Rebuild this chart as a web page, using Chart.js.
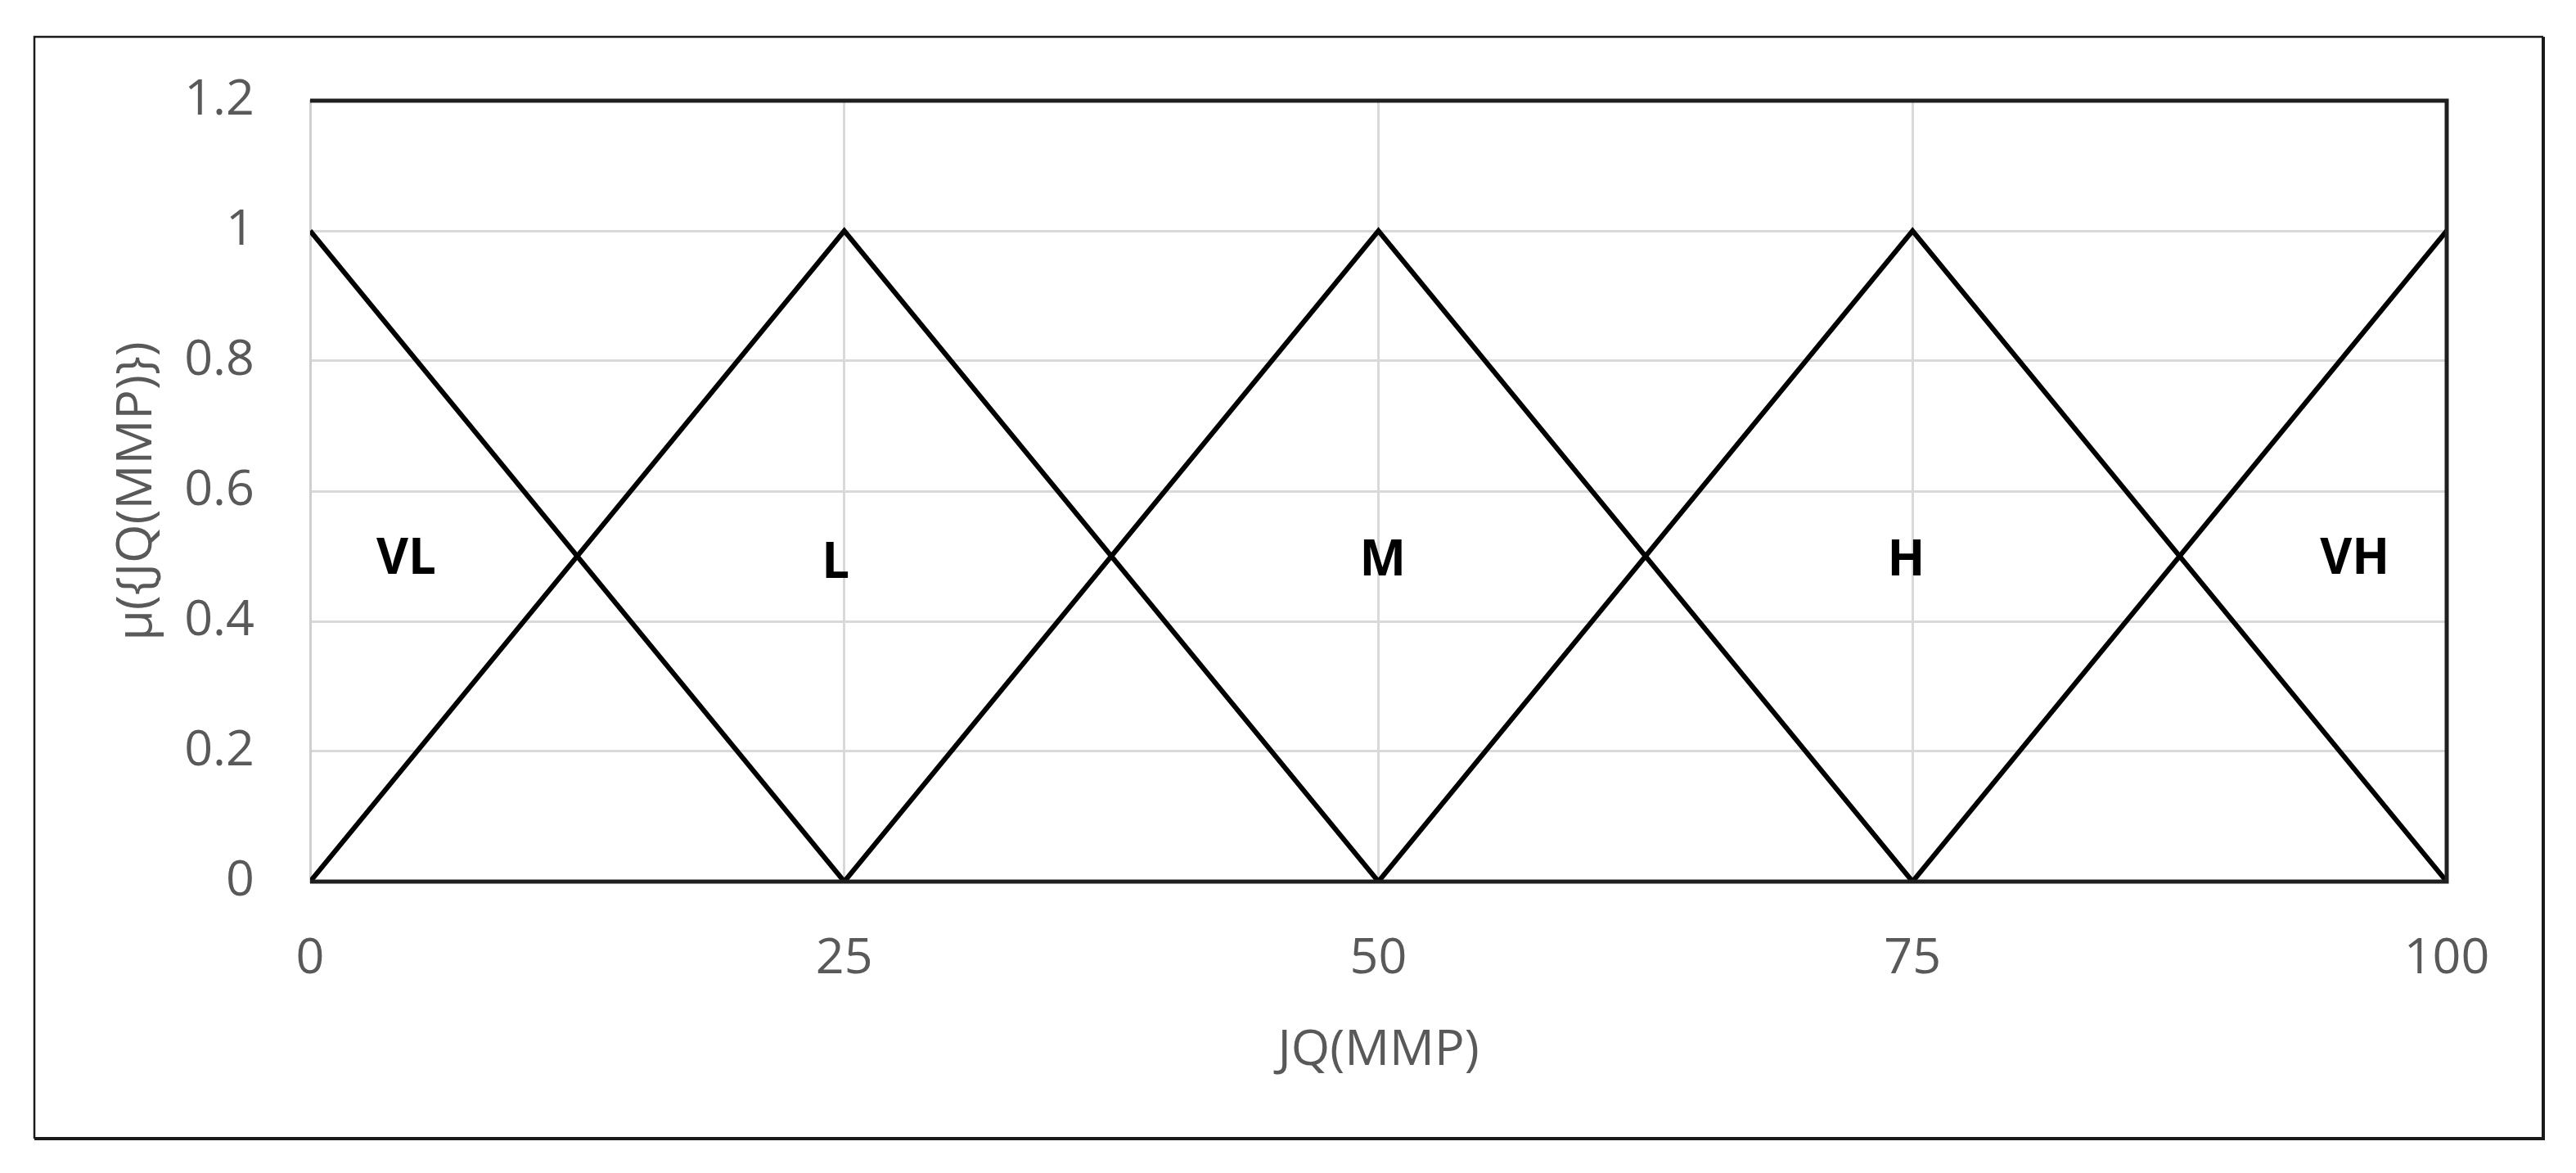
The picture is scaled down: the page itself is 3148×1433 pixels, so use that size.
<!DOCTYPE html>
<html>
<head>
<meta charset="utf-8">
<script src="https://cdn.jsdelivr.net/npm/chart.js@4"></script>
<style>
  html, body { margin: 0; padding: 0; background: #ffffff; }
  #wrap { width: 3148px; height: 1433px; position: relative; }
</style>
</head>
<body>
<div id="wrap"><canvas id="c" width="3148" height="1433"></canvas></div>
<script>
// ---- Data ----
const seriesNames = ['VL', 'L', 'M', 'H', 'VH'];
const vlX = [0, 25];        const vlY = [1, 0];
const lX  = [0, 25, 50];    const lY  = [0, 1, 0];
const mX  = [25, 50, 75];   const mY  = [0, 1, 0];
const hX  = [50, 75, 100];  const hY  = [0, 1, 0];
const vhX = [75, 100];      const vhY = [0, 1];

const xTicks = [0, 25, 50, 75, 100];
const yTicks = [0, 0.2, 0.4, 0.6, 0.8, 1, 1.2];

// term label positions (data coordinates)
const termLabels = ['VL', 'L', 'M', 'H', 'VH'];
const termLabelX = [4.5, 24.6, 50.2, 74.7, 95.7];
const termLabelY = [0.495, 0.488, 0.492, 0.492, 0.495];

const xTitle = 'JQ(MMP)';
const yTitle = 'μ({JQ(MMP)})';

// ---- Build datasets ----
function pts(xs, ys) { return xs.map((x, i) => ({ x: x, y: ys[i] })); }
const seriesX = [vlX, lX, mX, hX, vhX];
const seriesY = [vlY, lY, mY, hY, vhY];

const datasets = seriesNames.map((name, i) => ({
  label: name,
  data: pts(seriesX[i], seriesY[i]),
  borderColor: '#000000',
  borderWidth: 6,
  pointRadius: 0,
  tension: 0,
  fill: false,
  showLine: true
}));

const FONT = '"Open Sans", "Liberation Sans", sans-serif';
const GREY = '#595959';

const framePlugin = {
  id: 'frame',
  beforeDraw(chart) {
    const ctx = chart.ctx;
    ctx.save();
    ctx.fillStyle = '#ffffff';
    ctx.fillRect(0, 0, chart.width, chart.height);
    // outer border
    ctx.strokeStyle = '#1a1a1a';
    ctx.lineWidth = 2.5;
    ctx.beginPath();
    ctx.moveTo(42, 1391); ctx.lineTo(42, 45); ctx.lineTo(3108, 45);
    ctx.stroke();
    ctx.lineWidth = 4;
    ctx.beginPath();
    ctx.moveTo(3108, 45); ctx.lineTo(3108, 1391); ctx.lineTo(42, 1391);
    ctx.stroke();
    ctx.restore();
  },
  afterDraw(chart) {
    const ctx = chart.ctx;
    const a = chart.chartArea;
    ctx.save();
    ctx.strokeStyle = '#1f1f1f';
    ctx.lineWidth = 5;
    ctx.beginPath();
    ctx.moveTo(a.left, a.top); ctx.lineTo(a.right, a.top); ctx.lineTo(a.right, a.bottom); ctx.lineTo(a.left, a.bottom);
    ctx.stroke();
    // term labels
    const xs = chart.scales.x, ys = chart.scales.y;
    ctx.fillStyle = '#000000';
    ctx.font = 'bold 60px ' + FONT;
    ctx.textAlign = 'center';
    ctx.textBaseline = 'middle';
    termLabels.forEach((t, i) => {
      ctx.fillText(t, xs.getPixelForValue(termLabelX[i]), ys.getPixelForValue(termLabelY[i]));
    });
    ctx.restore();
  }
};

new Chart(document.getElementById('c'), {
  type: 'scatter',
  data: { datasets: datasets },
  options: {
    responsive: false,
    animation: false,
    devicePixelRatio: 1,
    layout: { padding: { top: 123, right: 158, left: 0, bottom: 0 } },
    plugins: { legend: { display: false }, tooltip: { enabled: false } },
    scales: {
      x: {
        type: 'linear',
        min: 0, max: 100,
        afterBuildTicks(scale) { scale.ticks = xTicks.map(v => ({ value: v })); },
        afterFit(scale) { scale.height = 1433 - 1077; },
        grid: { color: '#d9d9d9', lineWidth: 3, drawTicks: false },
        border: { display: false },
        ticks: { color: GREY, font: { family: FONT, size: 61 }, padding: 58, maxRotation: 0 },
        title: { display: true, text: xTitle, color: GREY, font: { family: FONT, size: 61 }, padding: { top: 0, bottom: 113 } }
      },
      y: {
        type: 'linear',
        min: 0, max: 1.2,
        afterBuildTicks(scale) { scale.ticks = yTicks.map(v => ({ value: v })); },
        afterFit(scale) { scale.width = 379; },
        grid: { color: '#d9d9d9', lineWidth: 3, drawTicks: false },
        border: { display: true, color: '#cfcfcf', width: 3 },
        ticks: { color: GREY, font: { family: FONT, size: 61 }, padding: 68,
                 callback: v => String(Math.round(v * 10) / 10) },
        title: { display: true, text: yTitle, color: GREY, font: { family: FONT, size: 61 }, padding: { top: 131, bottom: 0 } }
      }
    }
  },
  plugins: [framePlugin]
});
</script>
</body>
</html>
